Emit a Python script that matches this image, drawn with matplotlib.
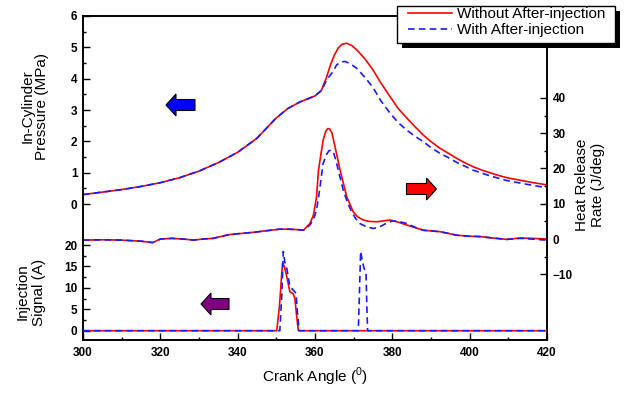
import numpy as np
import matplotlib
matplotlib.use('Agg')
import matplotlib.pyplot as plt
from matplotlib.patches import Polygon, Rectangle
from matplotlib.ticker import FixedLocator, MultipleLocator

plt.rcParams['font.family'] = ['Liberation Sans', 'DejaVu Sans']
plt.rcParams['mathtext.fontset'] = 'custom'
plt.rcParams['mathtext.rm'] = 'Liberation Sans'

# in-cylinder pressure (MPa)
p_ang_red = [300, 305, 310, 315, 320, 325, 330, 335, 340, 345, 350, 353, 356, 358, 360,
             361.7, 363, 364, 365, 366, 367, 368.2, 369.5, 370.8, 373, 375, 377, 379.4, 381.5,
             383.7, 386, 388, 390, 392.3, 394.5, 396.6, 398.7, 400.9, 403, 405.2, 407.5,
             409.6, 413, 416.5, 420]
p_red = [0.30, 0.38, 0.46, 0.56, 0.68, 0.84, 1.05, 1.32, 1.65, 2.10, 2.75, 3.05, 3.25, 3.35, 3.45,
         3.64, 4.05, 4.44, 4.75, 4.98, 5.10, 5.13, 5.06, 4.92, 4.62, 4.28, 3.87, 3.43, 3.05,
         2.75, 2.45, 2.20, 1.99, 1.78, 1.62, 1.46, 1.32, 1.19, 1.09, 1.00, 0.91,
         0.84, 0.76, 0.68, 0.61]
p_ang_blue = [300, 305, 310, 315, 320, 325, 330, 335, 340, 345, 350, 353, 356, 358, 360,
              361.7, 363, 364.5, 365.6, 366.7, 367.8, 369.2, 370.8, 373, 375.1, 377, 379.4,
              381.5, 383.7, 386, 388, 390, 392.3, 394.5, 396.6, 398.7, 400.9, 403, 405.2,
              407.5, 409.6, 413, 416.5, 420]
p_blue = [0.30, 0.38, 0.46, 0.56, 0.68, 0.84, 1.05, 1.32, 1.65, 2.10, 2.75, 3.05, 3.25, 3.35, 3.45,
          3.62, 3.96, 4.20, 4.44, 4.53, 4.55, 4.47, 4.33, 4.03, 3.70, 3.30, 2.90,
          2.60, 2.36, 2.15, 1.99, 1.80, 1.62, 1.48, 1.33, 1.21, 1.08, 0.99, 0.90,
          0.82, 0.75, 0.67, 0.59, 0.52]

# heat release rate (J/deg)
h_ang_red = [300, 305, 310, 315, 318, 320, 323, 326, 328.5, 331, 333.7, 336, 338, 341, 344, 347,
             350.9, 353, 355, 357, 358.7, 359.6, 360.4, 360.9, 362.1, 362.8, 363.3, 363.8,
             364.4, 365.2, 366.5, 368.2, 369.9, 371, 372.5, 374, 376, 378, 379.4, 381.5, 383.7,
             386, 388, 390, 392.3, 394.5, 396.6, 400, 402.7, 406, 409.6, 413, 416, 420]
h_red = [-0.3, -0.2, -0.3, -0.6, -1.0, 0.0, 0.2, 0.0, -0.3, 0.0, 0.2, 0.8, 1.3, 1.6, 1.9, 2.3,
         2.8, 2.8, 2.7, 2.5, 4.4, 6.8, 12.0, 19.5, 28.0, 30.6, 31.3, 31.2, 30.0, 26.0,
         19.5, 12.0, 7.7, 6.3, 5.4, 5.0, 4.9, 5.2, 5.4, 4.8, 4.0,
         3.2, 2.5, 2.3, 2.1, 1.6, 1.1, 0.8, 0.7, 0.3, -0.1, 0.3, 0.2, 0.0]
h_ang_blue = [300, 305, 310, 315, 318, 320, 323, 326, 328.5, 331, 333.7, 336, 338, 341, 344, 347,
              350.9, 353, 355, 357, 358.7, 359.6, 360.4, 361.2, 362.1, 363, 363.6, 364.1, 364.8,
              365.6, 367.3, 368.5, 369.5, 370.5, 371.6, 373.5, 375.1, 376.8, 378.5, 380.2, 382,
              383.7, 386, 388, 390, 392.3, 394.5, 396.6, 400, 402.7, 406, 409.6, 413, 416, 420]
h_blue = [-0.3, -0.2, -0.3, -0.6, -1.0, 0.0, 0.2, 0.0, -0.3, 0.0, 0.2, 0.8, 1.3, 1.6, 1.9, 2.3,
          2.8, 2.8, 2.7, 2.5, 4.0, 5.5, 8.2, 14.0, 21.4, 24.0, 25.0, 25.2, 24.5,
          21.4, 13.9, 10.0, 7.7, 5.8, 4.4, 3.4, 3.0, 3.5, 4.5, 5.2, 4.9,
          4.4, 3.3, 2.5, 2.3, 2.1, 1.6, 1.1, 0.8, 0.7, 0.3, -0.1, 0.2, 0.0, -0.3]

# injection signal (A)
i_ang_red = [300, 350.1, 350.8, 351.4, 351.6, 352.1, 352.7, 353.5, 354.4, 354.8, 355.1, 355.5,
             355.7, 420]
i_red = [0, 0, 5.6, 13.4, 15.7, 15.0, 12.6, 9.1, 8.6, 7.5, 4.8, 1.5, 0, 0]
i_ang_blue = [300, 350.9, 351.4, 351.8, 352.2, 352.7, 353.5, 354.4, 355.1, 355.4, 355.9,
              371.2, 371.5, 371.8, 372.3, 372.7, 373.2, 373.4, 373.6, 420]
i_blue = [0, 0, 8.0, 18.5, 16.0, 14.6, 10.3, 9.5, 8.7, 4.8, 0,
          0, 9.0, 18.5, 16.0, 14.6, 13.4, 6.0, 0, 0]

labels = ['Without After-injection', 'With After-injection']
RED = '#ff0000'
BLUE = '#1a1aff'
dash = (0, (4, 2.5))

fig = plt.figure(figsize=(6.26, 3.93), dpi=100)
pos = [83 / 626, 1 - 340 / 393, (547 - 83) / 626, (340 - 16) / 393]

ax = fig.add_axes(pos)
ax.plot(p_ang_red, p_red, color=RED, lw=1.2, label=labels[0])
ax.plot(p_ang_blue, p_blue, color=BLUE, lw=1.2, ls=dash, label=labels[1])
ax.set_xlim(300, 420)
ax.set_ylim(-4.34, 6)
ax.yaxis.set_major_locator(FixedLocator(range(0, 7)))
ax.yaxis.set_minor_locator(FixedLocator(np.arange(0.5, 6, 1.0)))
ax.xaxis.set_major_locator(MultipleLocator(20))
ax.xaxis.set_minor_locator(MultipleLocator(10))

axh = ax.twinx()
axh.plot(h_ang_red, h_red, color=RED, lw=1.2)
axh.plot(h_ang_blue, h_blue, color=BLUE, lw=1.2, ls=dash)
axh.set_ylim(-28.6, 63.2)
axh.yaxis.set_major_locator(FixedLocator(range(-10, 41, 10)))
axh.yaxis.set_minor_locator(FixedLocator(range(-5, 40, 10)))

axi = fig.add_axes(pos, sharex=ax)
axi.set_frame_on(False)
axi.patch.set_visible(False)
axi.plot(i_ang_red, i_red, color=RED, lw=1.2)
axi.plot(i_ang_blue, i_blue, color=BLUE, lw=1.2, ls=dash)
axi.set_ylim(-2.17, 73.5)
axi.yaxis.set_major_locator(FixedLocator(range(0, 21, 5)))
axi.yaxis.set_minor_locator(FixedLocator(np.arange(2.5, 20, 5)))
axi.xaxis.set_visible(False)

for a in (ax, axh, axi):
    a.tick_params(which='major', direction='in', length=5, width=1, labelsize=8.5, pad=4)
    a.tick_params(which='minor', direction='in', length=2.5, width=1)
    for s in a.spines.values():
        s.set_linewidth(1.2)
    for t in a.get_xticklabels() + a.get_yticklabels():
        t.set_fontweight('bold')
ax.tick_params(axis='x', pad=5)

fig.text(34.6 / 626, 1 - 106 / 393, 'In-Cylinder\nPressure (MPa)', rotation=90,
         ha='center', va='center', fontsize=11, linespacing=1.0, multialignment='center')
fig.text(31 / 626, 1 - 292 / 393, 'Injection\nSignal (A)', rotation=90,
         ha='center', va='center', fontsize=11, linespacing=1.2, multialignment='center')
fig.text(590 / 626, 1 - 184.5 / 393, 'Heat Release\nRate (J/deg)', rotation=90,
         ha='center', va='center', fontsize=11, linespacing=1.2, multialignment='center')
fig.text(315 / 626, 1 - 377 / 393, r'Crank Angle ($^\mathregular{0}$)',
         ha='center', va='center', fontsize=11)

# legend box drawn by hand so its padding matches the original (with a hard black shadow)
fig.add_artist(Rectangle((402 / 626, 1 - 48 / 393), 218 / 626, 37 / 393,
                         transform=fig.transFigure, facecolor='black', edgecolor='none', zorder=5))
fig.add_artist(Rectangle((397 / 626, 1 - 43 / 393), 218 / 626, 37 / 393,
                         transform=fig.transFigure, facecolor='white', edgecolor='black',
                         lw=1.0, zorder=5.5))
leg = fig.legend(loc='upper left', bbox_to_anchor=(408 / 626, 1 - 7 / 393), fontsize=11,
                 frameon=False, borderaxespad=0, borderpad=0, labelspacing=0.15,
                 handlelength=2.9, handletextpad=0.3)
leg.set_zorder(6)


def arrow(x_tip, yc, length, color, left=True):
    # pixel geometry measured from the top-left corner of the picture
    h, H, b = 10, 11, 5.5
    s = 1 if left else -1
    pts = [(x_tip, yc), (x_tip + s * h, yc - H), (x_tip + s * h, yc - b),
           (x_tip + s * length, yc - b), (x_tip + s * length, yc + b),
           (x_tip + s * h, yc + b), (x_tip + s * h, yc + H)]
    pts = [(x / 100, (393 - y) / 100) for x, y in pts]
    fig.add_artist(Polygon(pts, closed=True, transform=fig.dpi_scale_trans,
                           facecolor=color, edgecolor='black', lw=0.8, zorder=4))


arrow(166, 105, 29, '#0000ff', left=True)
arrow(436.5, 189, 30, '#ff0000', left=False)
arrow(201, 304, 28, '#800080', left=True)

fig.savefig('out.png', dpi=100)
